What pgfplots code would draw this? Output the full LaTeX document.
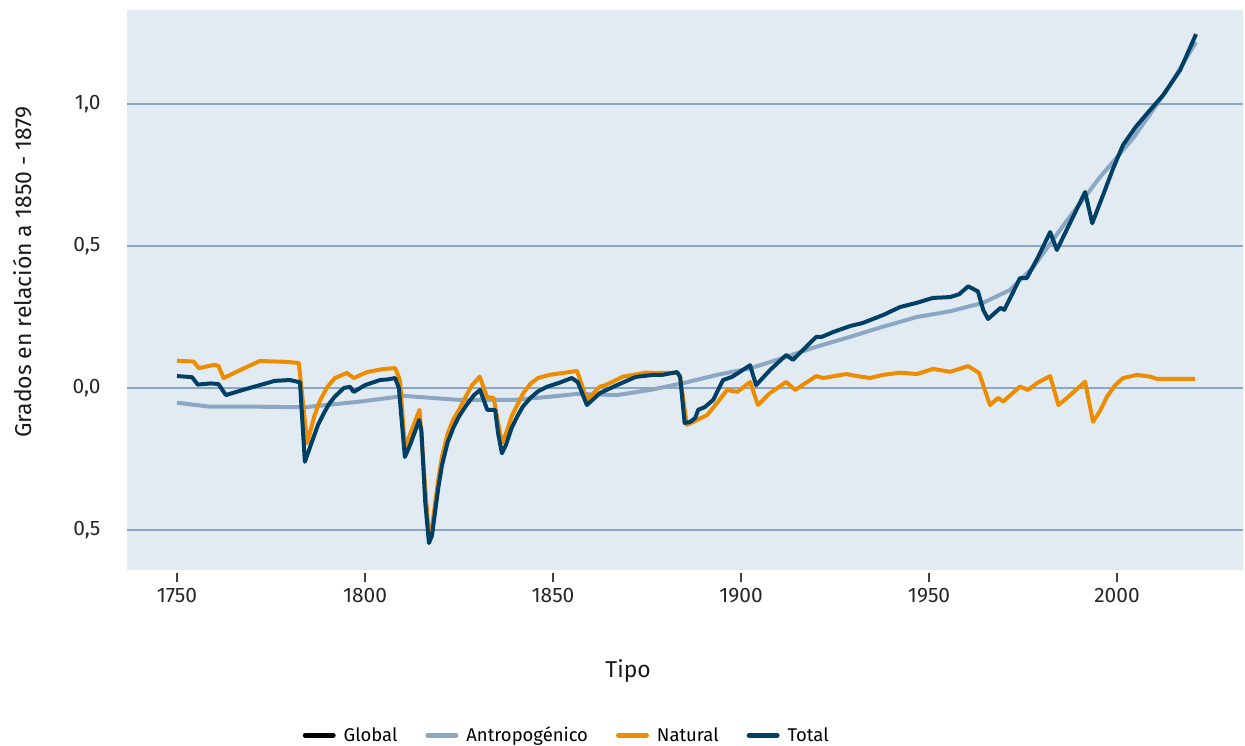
\documentclass[border=0pt]{standalone}
\usepackage{pgfplots}
\pgfplotsset{compat=1.18}
\usepackage{fontspec}
\setmainfont{Fira Sans}

\definecolor{bgc}{HTML}{E3EBF2}
\definecolor{gridc}{HTML}{8BA7C4}
\definecolor{antro}{HTML}{8BA7C4}
\definecolor{natur}{HTML}{EE8C00}
\definecolor{total}{HTML}{003F66}

\begin{document}
\begin{tikzpicture}
  \path[use as bounding box] (-127bp,-176bp) rectangle (1118bp,570bp);
  \begin{axis}[
      scale only axis,
      width=1116bp, height=560bp,
      xmin=1736.7, xmax=2033.5,
      ymin=-0.641, ymax=1.331,
      axis background/.style={fill=bgc},
      axis line style={draw=none},
      ymajorgrids, grid style={gridc, line width=1.5bp},
      xtick={1750,1800,1850,1900,1950,2000},
      xticklabels={1750,1800,1850,1900,1950,2000},
      ytick={-0.5,0,0.5,1},
      yticklabels={{0,5},{0,0},{0,5},{1,0}},
      tick align=outside,
      xtick pos=bottom,
      major tick length=9bp,
      xtick style={draw=black!75, line width=1.2bp, yshift=-3bp},
      ytick style={draw=none},
      xticklabel style={font=\fontsize{21}{24}\selectfont, text=black!85, yshift=-6bp},
      yticklabel style={font=\fontsize{21}{24}\selectfont, text=black!85, xshift=-14bp},
      xlabel={Tipo},
      ylabel={Grados en relación a 1850 - 1879},
      every axis x label/.style={at={(rel axis cs:0.449,-0.18)}, anchor=center,
        font=\fontsize{23}{26}\selectfont, text=black!90},
      every axis y label/.style={at={(rel axis cs:-0.094,0.532)}, anchor=center, rotate=90,
        font=\fontsize{23}{26}\selectfont, text=black!90},
      legend style={at={(rel axis cs:0.394,-0.295)}, anchor=center, legend columns=4,
        draw=none, fill=none, font=\fontsize{18.5}{22}\selectfont,
        /tikz/every even column/.append style={column sep=26bp},
        /tikz/every odd column/.append style={column sep=6bp}},
      legend image code/.code={\draw[#1, line width=5bp, line cap=round] (0bp,0bp) -- (28bp,0bp);},
      line join=round,
    ]

    \addlegendimage{black}
    \addlegendentry{Global}

    % Antropogénico
    \addplot[antro, line width=4bp] coordinates {
      (1750,-0.052) (1758.8,-0.066) (1772,-0.066) (1783.8,-0.068) (1798.7,-0.048)
      (1810.4,-0.028) (1825,-0.042) (1839.6,-0.042) (1849,-0.031) (1856.4,-0.021)
      (1867,-0.025) (1875.8,-0.007) (1884.6,0.017) (1893.6,0.046) (1902.4,0.069)
      (1911,0.105) (1920,0.145) (1929,0.180) (1937.8,0.216) (1946.8,0.250)
      (1955.6,0.270) (1964.4,0.300) (1971.5,0.345) (1977.7,0.426) (1986.7,0.590)
      (1995.5,0.743) (2004.3,0.880) (2013.3,1.050) (2021,1.218)
    };
    \addlegendentry{Antropogénico}

    % Natural
    \addplot[natur, line width=4bp] coordinates {
      (1750,0.096) (1754.4,0.093) (1755.8,0.070) (1759.8,0.081) (1761,0.078)
      (1762.4,0.035) (1766.8,0.063) (1772,0.095) (1779,0.092) (1782.4,0.088)
      (1784.6,-0.194) (1785.5,-0.15) (1786.5,-0.10) (1788,-0.045) (1790,0.004)
      (1792,0.035) (1795.2,0.053)
      (1797,0.035) (1800.5,0.056) (1805,0.067) (1808,0.070) (1809.3,0.028)
      (1810.6,-0.210) (1814.5,-0.077) (1816,-0.35) (1817,-0.520) (1817.8,-0.49)
      (1818.6,-0.41) (1819.5,-0.32) (1820.5,-0.24) (1822,-0.16) (1823.5,-0.11)
      (1825,-0.077) (1827,-0.025) (1828.5,0.01) (1830.5,0.040)
      (1832.4,-0.031) (1834.2,-0.036) (1836.4,-0.194) (1837.5,-0.16) (1839,-0.10)
      (1840.5,-0.06) (1842,-0.02) (1844,0.015)
      (1846,0.035) (1849,0.046) (1856.4,0.060) (1859,-0.042) (1862.5,0.005)
      (1864,0.010) (1868.6,0.040) (1874.8,0.054) (1878.4,0.053) (1883,0.053)
      (1883.8,0.040) (1885.6,-0.130) (1888.3,-0.113) (1891,-0.095) (1893.6,-0.053)
      (1896.3,-0.007) (1899,-0.014) (1902.4,0.021) (1904.5,-0.060) (1907.7,-0.018)
      (1912,0.021) (1914.4,-0.007) (1920,0.042) (1921.8,0.035) (1928,0.049)
      (1930.8,0.042) (1934.3,0.035) (1937.8,0.046) (1942.3,0.054) (1946.8,0.049)
      (1951,0.067) (1955.6,0.057) (1960.4,0.077) (1963.3,0.053) (1966.2,-0.060)
      (1968.4,-0.035) (1969.7,-0.048) (1974.2,0.005) (1976.3,-0.007) (1978.7,0.017)
      (1982.2,0.042) (1984.4,-0.060) (1986.7,-0.035) (1991.5,0.022) (1993.6,-0.119)
      (1995.5,-0.08) (1997.3,-0.031) (1999.5,0.01) (2001.6,0.035) (2005.3,0.046)
      (2008.8,0.040) (2010.6,0.032) (2020.7,0.032)
    };
    \addlegendentry{Natural}

    % Total
    \addplot[total, line width=4bp] coordinates {
      (1750,0.042) (1754,0.038) (1755.5,0.012) (1759,0.016) (1761,0.014)
      (1763,-0.025) (1768,-0.005) (1772,0.010) (1776,0.025) (1780,0.028)
      (1782.7,0.020) (1784,-0.260) (1786,-0.185) (1787.5,-0.13)
      (1789,-0.09) (1790.5,-0.055) (1792,-0.03) (1794.4,0.000) (1796,0.004)
      (1797,-0.014) (1800,0.010)
      (1804,0.028) (1806,0.030) (1808,0.035) (1809,0.000) (1810.6,-0.243)
      (1812,-0.2) (1814.4,-0.113) (1815,-0.15) (1816,-0.4) (1817,-0.546)
      (1817.8,-0.52) (1818.6,-0.44) (1819.5,-0.35) (1820.5,-0.27) (1822,-0.19)
      (1823.5,-0.14) (1825,-0.10) (1827,-0.06) (1829,-0.025) (1830.6,-0.007)
      (1832.5,-0.077) (1834.6,-0.077) (1835.4,-0.16)
      (1836.4,-0.230) (1837.5,-0.2) (1839,-0.14) (1840.5,-0.10) (1842,-0.065)
      (1844,-0.035) (1846,-0.012)
      (1848.4,0.004) (1852,0.020) (1855,0.035) (1856.6,0.020) (1859,-0.060)
      (1862.5,-0.018) (1867,0.010) (1872,0.039) (1876.6,0.046) (1879,0.046)
      (1883,0.056) (1883.8,0.039) (1885,-0.123) (1886.4,-0.120) (1887.8,-0.106)
      (1888.6,-0.077) (1890.4,-0.067) (1892.6,-0.042) (1895.2,0.028) (1897.6,0.039)
      (1902.4,0.080) (1904,0.010) (1907.7,0.063) (1912,0.116) (1913.8,0.099)
      (1920,0.180) (1921.5,0.180) (1924.5,0.197) (1929,0.218) (1932.4,0.229)
      (1937.8,0.257) (1942.3,0.285) (1946.8,0.300) (1951,0.317) (1955.6,0.320)
      (1958,0.330) (1960.4,0.358) (1963,0.340) (1964.4,0.275) (1965.7,0.243)
      (1969,0.282) (1970,0.275) (1974.2,0.387) (1976,0.387) (1979,0.461)
      (1982.2,0.549) (1984,0.486) (1991.5,0.690) (1993.4,0.580) (1996.3,0.680)
      (1999,0.775) (2001.6,0.856) (2005,0.92) (2008.8,0.979) (2012.3,1.032)
      (2016.8,1.120) (2021,1.246)
    };
    \addlegendentry{Total}
  \end{axis}
\end{tikzpicture}
\end{document}
